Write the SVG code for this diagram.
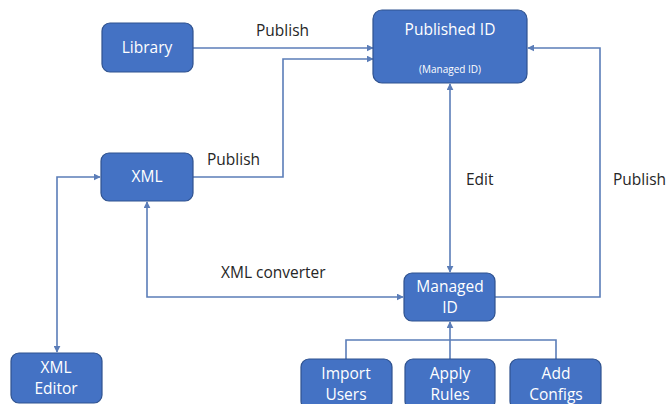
<svg xmlns="http://www.w3.org/2000/svg" width="668" height="404" viewBox="0 0 668 404">
<style>
.node{fill:#4472C4;stroke:#2F528F;stroke-width:1.2}
.nt{font-family:"Open Sans","Liberation Sans",sans-serif;font-size:15.5px;fill:#FFFFFF;text-anchor:middle}
.small{font-size:10px}
.lbl{font-family:"Open Sans","Liberation Sans",sans-serif;font-size:15.5px;fill:#262626}
.c{fill:none;stroke:#5B7DB8;stroke-width:1.6}
</style>
<defs>
<marker id="ah" viewBox="0 0 10 10" refX="9" refY="5" markerWidth="7" markerHeight="7" markerUnits="userSpaceOnUse" orient="auto-start-reverse">
<path d="M0,0 L10,5 L0,10 z" fill="#5B7DB8"/>
</marker>
</defs>
<rect width="668" height="404" fill="#FFFFFF"/>
<g id="connectors">
<path class="c" d="M193,48 H373" marker-end="url(#ah)"/>
<path class="c" d="M193,177 H283 V59 H373" marker-end="url(#ah)"/>
<path class="c" d="M450,84 V272" marker-start="url(#ah)" marker-end="url(#ah)"/>
<path class="c" d="M495,297 H600 V48 H528" marker-end="url(#ah)"/>
<path class="c" d="M147,202 V297 H403" marker-start="url(#ah)" marker-end="url(#ah)"/>
<path class="c" d="M100,177 H57 V352" marker-start="url(#ah)" marker-end="url(#ah)"/>
<path class="c" d="M346,359 V340 H556 V359"/>
<path class="c" d="M450,359 V322" marker-end="url(#ah)"/>
<text class="lbl" x="256" y="36">Publish</text>
<text class="lbl" x="207" y="165">Publish</text>
<text class="lbl" x="466" y="185">Edit</text>
<text class="lbl" x="613" y="185">Publish</text>
<text class="lbl" x="221" y="278">XML converter</text>
</g>
<g id="library"><rect class="node" x="102" y="23" width="91" height="49" rx="8"/><text class="nt" x="147" y="53">Library</text></g>
<g id="published-id"><rect class="node" x="373" y="10" width="154" height="73" rx="9"/><text class="nt" x="450" y="35">Published ID</text><text class="nt small" x="450" y="73">(Managed ID)</text></g>
<g id="xml"><rect class="node" x="101" y="153" width="92" height="48" rx="8"/><text class="nt" x="147" y="182">XML</text></g>
<g id="xml-editor"><rect class="node" x="11" y="353" width="91" height="50" rx="8"/><text class="nt" x="56" y="373">XML</text><text class="nt" x="56" y="394">Editor</text></g>
<g id="managed-id"><rect class="node" x="404" y="273" width="91" height="48" rx="8"/><text class="nt" x="450" y="292">Managed</text><text class="nt" x="450" y="313">ID</text></g>
<g id="import-users"><rect class="node" x="301" y="359" width="91" height="50" rx="8"/><text class="nt" x="346" y="379">Import</text><text class="nt" x="346" y="400">Users</text></g>
<g id="apply-rules"><rect class="node" x="405" y="359" width="90" height="50" rx="8"/><text class="nt" x="450" y="379">Apply</text><text class="nt" x="450" y="400">Rules</text></g>
<g id="add-configs"><rect class="node" x="510" y="359" width="91" height="50" rx="8"/><text class="nt" x="556" y="379">Add</text><text class="nt" x="556" y="400">Configs</text></g>
</svg>
